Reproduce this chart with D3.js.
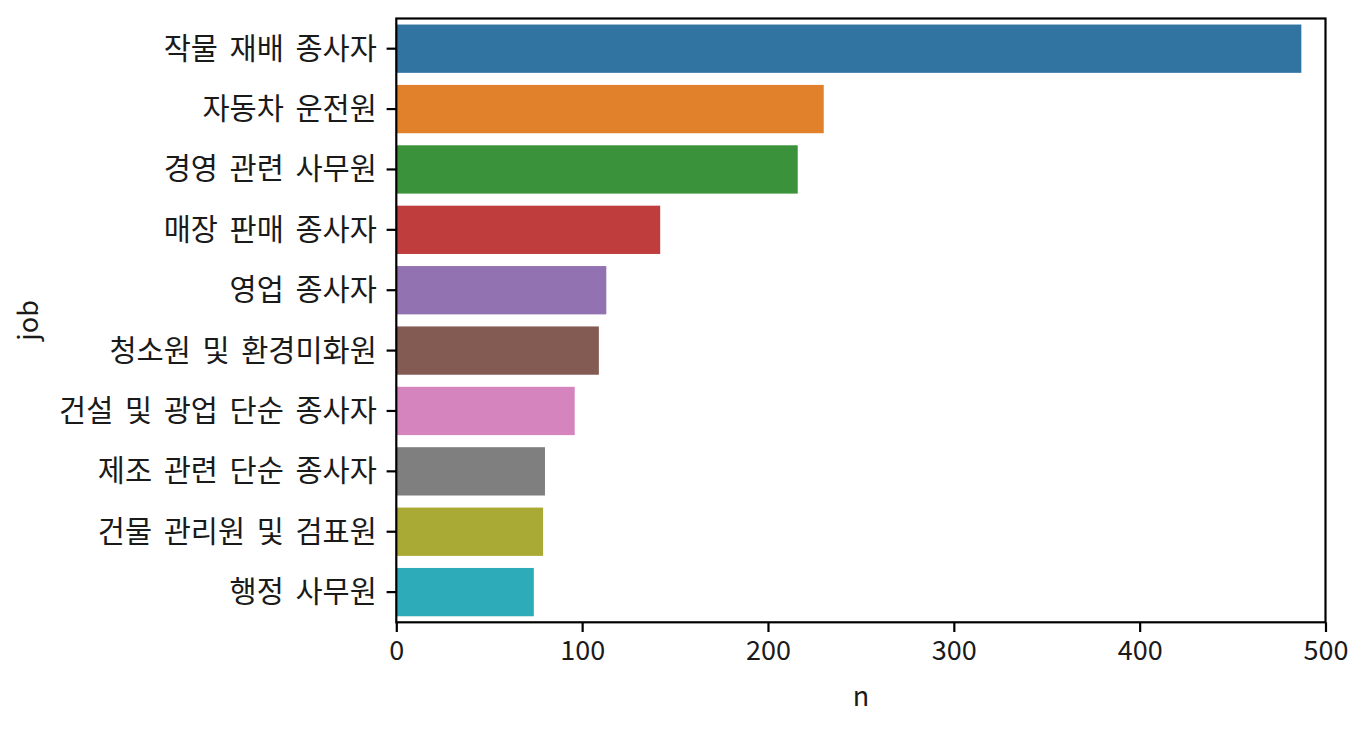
<!DOCTYPE html>
<html><head><meta charset="utf-8">
<script src="https://cdn.jsdelivr.net/npm/d3@7"></script>
<style>body{margin:0;background:#fff;} text{font-family:"Noto Sans CJK KR","Noto Sans",sans-serif;}</style>
</head><body>
<svg id="c" width="1368" height="732"></svg>
<script>
const jobs = ["작물 재배 종사자","자동차 운전원","경영 관련 사무원","매장 판매 종사자","영업 종사자","청소원 및 환경미화원","건설 및 광업 단순 종사자","제조 관련 단순 종사자","건물 관리원 및 검표원","행정 사무원"];
const counts = [487,230,216,142,113,109,96,80,79,74];
const colors = ["#3274a1","#e1812c","#3a923a","#c03d3e","#9372b2","#845b53","#d684bd","#7f7f7f","#a9aa35","#2eabb8"];
const xTicks = [0,100,200,300,400,500];

const L=396.3, R=1325.5, T=18.5, B=622.3;
const svg = d3.select("#c");
const x = d3.scaleLinear().domain([0,500]).range([L,R]);
const y = d3.scaleBand().domain(jobs).range([T,B]).paddingInner(0.2).paddingOuter(0.1);

svg.selectAll("rect.bar").data(jobs).enter().append("rect")
  .attr("class","bar")
  .attr("x", x(0)).attr("y", d=>y(d))
  .attr("width", (d,i)=>x(counts[i])-x(0)).attr("height", y.bandwidth())
  .attr("fill",(d,i)=>colors[i]);

const xa = svg.append("g").attr("transform",`translate(0,${B})`)
  .call(d3.axisBottom(x).tickValues(xTicks).tickSize(9.7).tickPadding(9).tickFormat(d3.format("d")));
const ya = svg.append("g").attr("transform",`translate(${L},0)`)
  .call(d3.axisLeft(y).tickSize(9.7).tickPadding(9.7));
[xa,ya].forEach(a=>{
  a.select(".domain").remove();
  a.selectAll("line").attr("stroke","#000").attr("stroke-width",2.2);
  a.selectAll("text").attr("fill","#1a1a1a");
});
xa.selectAll("text").attr("font-size",27);
ya.selectAll("text").attr("font-size",29.5).attr("word-spacing","5px").attr("dy","0.34em");
svg.append("rect").attr("x",L).attr("y",T).attr("width",R-L).attr("height",B-T)
  .attr("fill","none").attr("stroke","#000").attr("stroke-width",2.2);

svg.append("text").attr("x",(L+R)/2).attr("y",706).attr("text-anchor","middle")
  .attr("font-size",27).attr("fill","#1a1a1a").text("n");
svg.append("text").attr("transform",`translate(38,${(T+B)/2}) rotate(-90)`).attr("text-anchor","middle")
  .attr("font-size",27).attr("fill","#1a1a1a").text("job");
</script>
</body></html>
